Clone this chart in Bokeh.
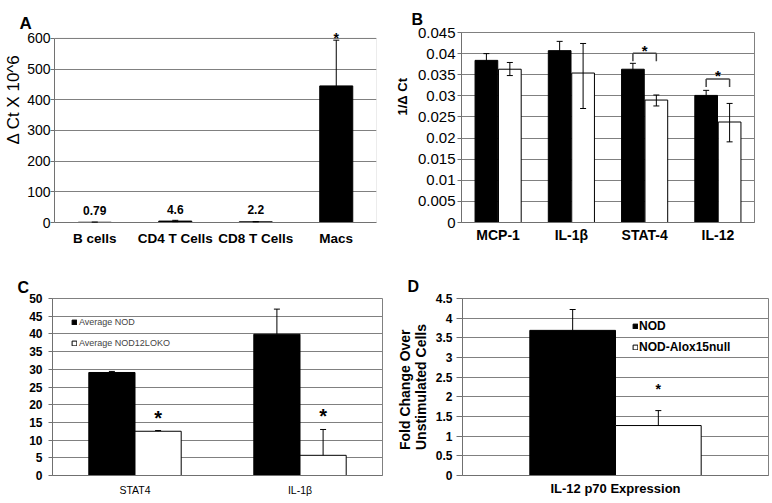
from bokeh.plotting import figure
from bokeh.models import (ColumnDataSource, Range1d, FixedTicker, Whisker, TeeHead, LabelSet,
                          Legend, LegendItem, CustomJSTickFormatter, Title, BoxAnnotation)
from bokeh.core.properties import value
from bokeh.transform import dodge
from bokeh.layouts import row, column
from bokeh.embed import file_html
from bokeh.resources import INLINE

FONT = "Liberation Sans"
GRID = "#808080"
AXIS = "#707070"

# ---------------- Panel A data ----------------
a_cats = ["B cells", "CD4 T Cells", "CD8 T Cells", "Macs"]
a_vals = [0.79, 4.6, 2.2, 445]
a_err = [0.3, 2.5, 0.8, 149]
a_sig = ["Macs"]
a_ticks = [0, 100, 200, 300, 400, 500, 600]
a_ylabel = "\u0394 Ct X 10^6"

# ---------------- Panel B data ----------------
b_cats = ["MCP-1", "IL-1\u03b2", "STAT-4", "IL-12"]
b_nod = [0.0384, 0.0407, 0.0363, 0.0301]
b_nod_err = [0.0016, 0.0022, 0.0014, 0.0012]
b_ko = [0.0363, 0.0354, 0.0290, 0.0238]
b_ko_lo = [0.0348, 0.0270, 0.0276, 0.0191]
b_ko_hi = [0.0379, 0.0424, 0.0302, 0.0282]
b_sig = ["STAT-4", "IL-12"]
b_sig_y = [0.0401, 0.0340]
b_ticks = [0, 0.005, 0.01, 0.015, 0.02, 0.025, 0.03, 0.035, 0.04, 0.045]
b_ylabel = "1/\u0394 Ct"

# ---------------- Panel C data ----------------
c_cats = ["STAT4", "IL-1\u03b2"]
c_series = ["Average NOD", "Average NOD12LOKO"]
c_nod = [29.1, 39.9]
c_nod_err = [0.3, 7.1]
c_ko = [12.5, 5.7]
c_ko_err = [0.2, 7.3]
c_ticks = [0, 5, 10, 15, 20, 25, 30, 35, 40, 45, 50]

# ---------------- Panel D data ----------------
d_cats = ["IL-12 p70 Expression"]
d_series = ["NOD", "NOD-Alox15null"]
d_nod = [3.69]
d_nod_err = [0.53]
d_ko = [1.27]
d_ko_err = [0.38]
d_ticks = [0, 0.5, 1, 1.5, 2, 2.5, 3, 3.5, 4, 4.5]
d_ylabel = "Fold Change Over\nUnstimulated Cells"


def base_fig(cats, w, h, ymax, ticks, borders, title, t_size, t_off, t_standoff):
    left, right, top, bottom = borders
    p = figure(x_range=cats, y_range=Range1d(0, ymax), width=w, height=h,
               output_backend="svg", toolbar_location=None,
               min_border_left=left, min_border_right=right,
               min_border_top=top, min_border_bottom=bottom, title=title)
    p.title.align = "left"
    p.title.offset = t_off
    p.title.standoff = t_standoff
    p.title.text_font = FONT
    p.title.text_font_size = t_size
    p.title.text_font_style = "bold"
    p.title.text_color = "black"
    p.xgrid.visible = False
    p.ygrid.ticker = FixedTicker(ticks=ticks)
    p.ygrid.grid_line_color = GRID
    p.yaxis.ticker = FixedTicker(ticks=ticks)
    p.yaxis.formatter = CustomJSTickFormatter(code="return parseFloat(tick.toFixed(4)).toString();")
    p.yaxis.minor_tick_line_color = None
    p.yaxis.major_tick_in = 0
    p.yaxis.major_tick_line_color = AXIS
    p.xaxis.major_tick_line_color = None
    p.xaxis.major_tick_in = 0
    p.xaxis.major_tick_out = 0
    p.axis.axis_line_color = AXIS
    p.axis.major_label_text_color = "black"
    p.axis.major_label_text_font = FONT
    p.outline_line_color = GRID
    p.background_fill_color = "white"
    p.border_fill_color = "white"
    return p


def ytitle(p, text, size, standoff, offset, align, bold=True, line_height=1.2):
    p.add_layout(Title(text=text, align=align, offset=offset, standoff=standoff,
                       text_font=FONT, text_font_size=size,
                       text_font_style="bold" if bold else "normal",
                       text_color="black", text_line_height=line_height), "left")


def whisk(p, base, lo, hi, src, lower=True):
    w = Whisker(base=base, lower=lo, upper=hi, source=src, level="overlay",
                line_color="black", line_width=1,
                upper_head=TeeHead(size=6, line_color="black", line_width=1),
                lower_head=TeeHead(size=6, line_color="black", line_width=1) if lower else None)
    p.add_layout(w)


# ================= Panel A =================
# y range reaches a little above 600 so the significance mark fits inside the frame
pA = base_fig(a_cats, 388, 250, 619, a_ticks, (52, 12, 27, 28), "A", "17px", -35, 0)
pA.outline_line_color = None
pA.add_layout(BoxAnnotation(bottom=0, top=600, fill_color=None, line_color=GRID, line_width=1))
pA.yaxis.bounds = (0, 600)
pA.yaxis.major_label_text_font_size = "14px"
pA.yaxis.major_tick_out = 4
pA.yaxis.major_label_standoff = 0
pA.xaxis.major_label_text_font_size = "13.5px"
pA.xaxis.major_label_text_font_style = "bold"
pA.xaxis.major_label_standoff = 8
ytitle(pA, a_ylabel, "17px", 3, 78, "left", bold=False)

srcA = ColumnDataSource(dict(
    cat=a_cats, val=a_vals,
    lo=[v - e for v, e in zip(a_vals, a_err)],
    hi=[v + e for v, e in zip(a_vals, a_err)],
    lab=[("" if c in a_sig else f"{v:g}") for c, v in zip(a_cats, a_vals)],
))
pA.vbar(x="cat", top="val", width=0.41, source=srcA, fill_color="black", line_color="black")
whisk(pA, "cat", "lo", "hi", srcA)
pA.add_layout(LabelSet(x="cat", y="val", text="lab", source=srcA, y_offset=12,
                       text_align="center", text_baseline="middle", text_font=value(FONT),
                       text_font_size="12px", text_font_style="bold", text_color="black"))
starA = ColumnDataSource(dict(
    cat=[c for c in a_cats if c in a_sig],
    y=[v + e for c, v, e in zip(a_cats, a_vals, a_err) if c in a_sig],
    t=["*" for c in a_cats if c in a_sig],
))
pA.add_layout(LabelSet(x="cat", y="y", text="t", source=starA, y_offset=2,
                       text_align="center", text_baseline="middle", text_font=value(FONT),
                       text_font_size="14px", text_font_style="bold", text_color="black"))

# ================= Panel B =================
pB = base_fig(b_cats, 382, 250, 0.045, b_ticks, (69, 16, 32, 24), "B", "16px", -50, 10)
pB.yaxis.major_label_text_font_size = "15px"
pB.yaxis.major_tick_out = 4
pB.yaxis.major_label_standoff = 2
pB.xaxis.major_label_text_font_size = "14px"
pB.xaxis.major_label_text_font_style = "bold"
pB.xaxis.major_label_standoff = 4
ytitle(pB, b_ylabel, "13px", 9, 107, "left")

srcB = ColumnDataSource(dict(
    cat=b_cats, nod=b_nod, ko=b_ko,
    nod_lo=[v - e for v, e in zip(b_nod, b_nod_err)],
    nod_hi=[v + e for v, e in zip(b_nod, b_nod_err)],
    ko_lo=b_ko_lo, ko_hi=b_ko_hi,
))
pB.vbar(x=dodge("cat", -0.16, range=pB.x_range), top="nod", width=0.31, source=srcB,
        fill_color="black", line_color="black")
pB.vbar(x=dodge("cat", 0.16, range=pB.x_range), top="ko", width=0.31, source=srcB,
        fill_color="white", line_color="black")
whisk(pB, dodge("cat", -0.16, range=pB.x_range), "nod_lo", "nod_hi", srcB)
whisk(pB, dodge("cat", 0.16, range=pB.x_range), "ko_lo", "ko_hi", srcB)

sigB = ColumnDataSource(dict(cat=b_sig, y=b_sig_y, y_drop=[y - 0.0019 for y in b_sig_y],
                             t=["*"] * len(b_sig)))
pB.segment(x0=dodge("cat", -0.16, range=pB.x_range), x1=dodge("cat", 0.16, range=pB.x_range),
           y0="y", y1="y", source=sigB, line_color="#444444", line_width=1.5)
pB.segment(x0=dodge("cat", -0.16, range=pB.x_range), x1=dodge("cat", -0.16, range=pB.x_range),
           y0="y", y1="y_drop", source=sigB, line_color="#444444", line_width=1.5)
pB.segment(x0=dodge("cat", 0.16, range=pB.x_range), x1=dodge("cat", 0.16, range=pB.x_range),
           y0="y", y1="y_drop", source=sigB, line_color="#444444", line_width=1.5)
pB.add_layout(LabelSet(x="cat", y="y", text="t", source=sigB, y_offset=3,
                       text_align="center", text_baseline="middle", text_font=value(FONT),
                       text_font_size="15px", text_font_style="bold", text_color="black"))

# ================= Panel C =================
pC = base_fig(c_cats, 388, 251, 50, c_ticks, (52, 6, 48, 26), "C", "16px", -35, 6)
pC.yaxis.major_label_text_font_size = "12px"
pC.yaxis.major_label_text_font_style = "bold"
pC.yaxis.major_tick_out = 4
pC.yaxis.major_label_standoff = 6
pC.xaxis.major_label_text_font_size = "10.5px"
pC.xaxis.major_label_standoff = 8

srcC = ColumnDataSource(dict(
    cat=c_cats, nod=c_nod, ko=c_ko,
    nod_hi=[v + e for v, e in zip(c_nod, c_nod_err)],
    ko_hi=[v + e for v, e in zip(c_ko, c_ko_err)],
))
rC1 = pC.vbar(x=dodge("cat", -0.14, range=pC.x_range), top="nod", width=0.28, source=srcC,
              fill_color="black", line_color="black")
rC2 = pC.vbar(x=dodge("cat", 0.14, range=pC.x_range), top="ko", width=0.28, source=srcC,
              fill_color="white", line_color="black")
whisk(pC, dodge("cat", -0.14, range=pC.x_range), "nod", "nod_hi", srcC, lower=False)
whisk(pC, dodge("cat", 0.14, range=pC.x_range), "ko", "ko_hi", srcC, lower=False)
starC = ColumnDataSource(dict(cat=c_cats, y=srcC.data["ko_hi"], t=["*"] * len(c_cats)))
pC.add_layout(LabelSet(x=dodge("cat", 0.14, range=pC.x_range), y="y", text="t", source=starC,
                       y_offset=13, text_align="center", text_baseline="middle",
                       text_font=value(FONT), text_font_size="20px", text_font_style="bold",
                       text_color="black"))
legC = Legend(items=[LegendItem(label=c_series[0], renderers=[rC1]),
                     LegendItem(label=c_series[1], renderers=[rC2])],
              location=(19, 127), orientation="vertical", glyph_width=6, glyph_height=6,
              label_standoff=2, label_height=6, spacing=11, padding=0, margin=0,
              border_line_color=None, background_fill_alpha=0,
              label_text_font=FONT, label_text_font_size="9px", label_text_color="#444444")
pC.add_layout(legC)

# ================= Panel D =================
pD = base_fig(d_cats, 382, 251, 4.5, d_ticks, (74, 2, 48, 25), "D", "16px", -55, 7)
pD.yaxis.major_label_text_font_size = "12px"
pD.yaxis.major_label_text_font_style = "bold"
pD.yaxis.major_tick_out = 6
pD.yaxis.major_label_standoff = 4
pD.xaxis.major_label_text_font_size = "13px"
pD.xaxis.major_label_text_font_style = "bold"
pD.xaxis.major_label_standoff = 5
ytitle(pD, d_ylabel, "14px", 7, 0, "center", line_height=1.0)

srcD = ColumnDataSource(dict(
    cat=d_cats, nod=d_nod, ko=d_ko,
    nod_hi=[v + e for v, e in zip(d_nod, d_nod_err)],
    ko_hi=[v + e for v, e in zip(d_ko, d_ko_err)],
    t=["*"] * len(d_cats),
))
rD1 = pD.vbar(x=dodge("cat", -0.14, range=pD.x_range), top="nod", width=0.28, source=srcD,
              fill_color="black", line_color="black")
rD2 = pD.vbar(x=dodge("cat", 0.14, range=pD.x_range), top="ko", width=0.28, source=srcD,
              fill_color="white", line_color="black")
whisk(pD, dodge("cat", -0.14, range=pD.x_range), "nod", "nod_hi", srcD, lower=False)
whisk(pD, dodge("cat", 0.14, range=pD.x_range), "ko", "ko_hi", srcD, lower=False)
pD.add_layout(LabelSet(x=dodge("cat", 0.14, range=pD.x_range), y="ko_hi", text="t", source=srcD,
                       y_offset=22, text_align="center", text_baseline="middle",
                       text_font=value(FONT), text_font_size="14px", text_font_style="bold",
                       text_color="black"))
legD = Legend(items=[LegendItem(label=d_series[0], renderers=[rD1]),
                     LegendItem(label=d_series[1], renderers=[rD2])],
              location=(170, 121), orientation="vertical", glyph_width=6, glyph_height=6,
              label_standoff=1, label_height=6, spacing=7, padding=0, margin=0,
              border_line_color=None, background_fill_alpha=0,
              label_text_font=FONT, label_text_font_size="12px", label_text_font_style="bold",
              label_text_color="black")
pD.add_layout(legD)

layout = column(row(pA, pB), row(pC, pD))
open("out.html", "w").write(file_html(layout, INLINE))
